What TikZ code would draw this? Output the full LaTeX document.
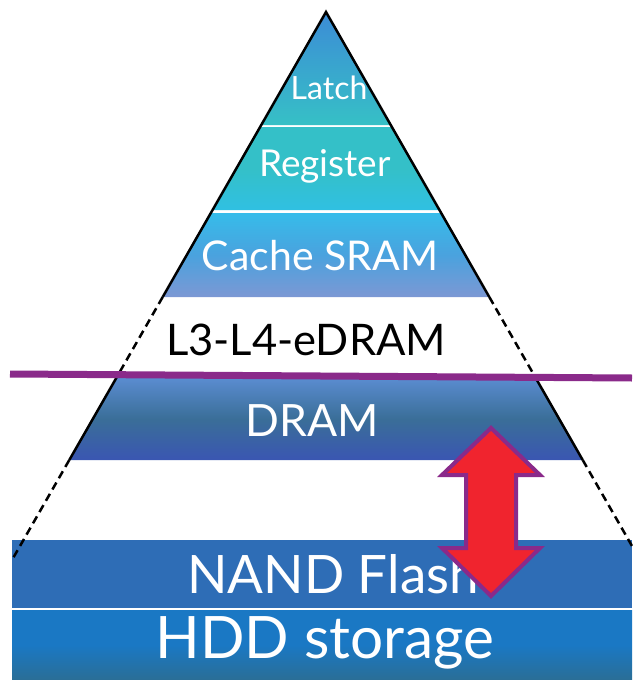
\documentclass[tikz,border=0pt]{standalone}
\usepackage{fontspec}
\setmainfont{Lato}
\definecolor{purp}{HTML}{8A2A8A}
\definecolor{arrowred}{HTML}{F0242E}
\definecolor{latchtop}{HTML}{3C8CD6}
\definecolor{latchbot}{HTML}{36C0C6}
\definecolor{regtop}{HTML}{34C0C8}
\definecolor{regbot}{HTML}{30C0E2}
\definecolor{cachetop}{HTML}{36BCEA}
\definecolor{cachemid}{HTML}{4AA2DE}
\definecolor{cachebot}{HTML}{7C98D4}
\definecolor{dramtop}{HTML}{5A8CD0}
\definecolor{drammid}{HTML}{3A6E98}
\definecolor{drambot}{HTML}{3A56B2}
\definecolor{nandcol}{HTML}{2E6DB6}
\definecolor{hddtop}{HTML}{1A78C4}
\definecolor{hddbot}{HTML}{2A6E96}
\tikzstyle{lbl}=[text=white,inner sep=0pt]
\tikzstyle{edge}=[line width=2.5pt,black]
\tikzstyle{dashedge}=[edge,dash pattern=on 8pt off 5pt]

\begin{document}
\begin{tikzpicture}[x=1pt,y=-1pt,declare function={lx(\y)=326-0.573*(\y-12); rx(\y)=326+0.573*(\y-12);}]
    \useasboundingbox (0,0) rectangle (632,680);
    \coordinate (apex) at (326,12);
    \shade[top color=latchtop,bottom color=latchbot] (apex) -- ({rx(125)},125) -- ({lx(125)},125) -- cycle;
    \foreach \yt/\yb/\ct/\cm/\cb in {127/210/regtop/regtop/regbot,213/297/cachetop/cachemid/cachebot,378/460/dramtop/drammid/drambot}
    \shade[top color=\ct,bottom color=\cb,middle color=\cm] ({lx(\yt)},\yt) -- ({rx(\yt)},\yt) -- ({rx(\yb)},\yb) -- ({lx(\yb)},\yb) -- cycle;
    \fill[nandcol] (12,540) rectangle (632,608);
    \shade[top color=hddtop,bottom color=hddbot,middle color=hddtop] (12,610) rectangle (632,680);

    \draw[edge] ({lx(297)},297) -- (apex) -- ({rx(297)},297);
    \draw[edge] ({lx(378)},378) -- ({lx(460)},460);
    \draw[edge] ({rx(378)},378) -- ({rx(460)},460);
    \draw[dashedge] ({lx(297)},297) -- ({lx(378)},378);
    \draw[dashedge] ({rx(297)},297) -- ({rx(378)},378);
    \draw[dashedge] ({lx(460)},460) -- ({lx(560)},560);
    \draw[dashedge] ({rx(460)},460) -- (632,546);
    \draw[purp,line width=7pt] (10,374) -- (632,378);

    \node[lbl,font=\fontsize{32}{32}\selectfont] (latch) at (329,88) {Latch};
    \node[lbl,font=\fontsize{37}{37}\selectfont] (register) at (325,166) {Register};
    \node[lbl,font=\fontsize{41}{41}\selectfont] (cache) at (320,256) {Cache SRAM};
    \node[inner sep=0pt,font=\fontsize{43.5}{43.5}\selectfont] (edram) at (306,340) {L3-L4-eDRAM};
    \node[lbl,font=\fontsize{44.5}{44.5}\selectfont] (dram) at (312,421) {DRAM};
    \node[lbl,font=\fontsize{53}{53}\selectfont] (nand) at (333,574) {NAND Flash};
    \node[lbl,font=\fontsize{58.5}{58.5}\selectfont] (hdd) at (325,643) {HDD storage};

    \draw[purp,line width=4pt,fill=arrowred,line join=miter] (491,428) -- (540,475) -- (516,475) -- (516,548) -- (540,548) -- (491,596) -- (442,548) -- (466,548) -- (466,475) -- (442,475) -- cycle;
\end{tikzpicture}
\end{document}
